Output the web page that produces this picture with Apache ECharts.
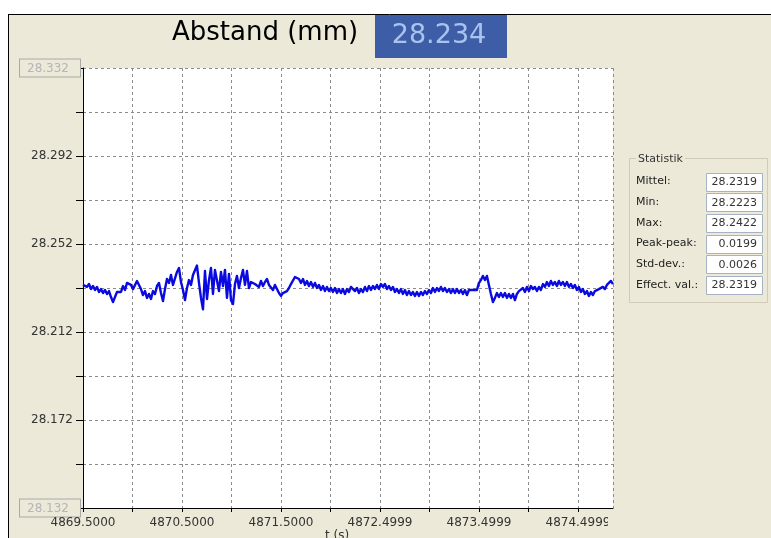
<!DOCTYPE html>
<html><head><meta charset="utf-8">
<script src="https://cdn.jsdelivr.net/npm/echarts@6/dist/echarts.min.js"></script>
<style>html,body{margin:0;padding:0;background:#fff;}#c{width:771px;height:538px;}</style>
</head><body><div id="c"></div>
<script>
// ---- data ----
const T0 = 4869.5;        // first sample time (s)
const DT = 0.0202;        // sample spacing (s)
const T_MAX = 4874.854;   // end of time axis (s)
const Y0 = 28.132;        // bottom of distance axis (mm)
const Y_TOP = 28.332;     // top of distance axis (mm)
const xTickLabels = ['4869.5000','4870.5000','4871.5000','4872.4999','4873.4999','4874.4999'];
const yTickLabels = ['28.132','28.172','28.212','28.252','28.292','28.332'];
const titleText = 'Abstand (mm)';
const currentValue = '28.234';
const xAxisTitle = 't (s)';
const statLabels = ['Mittel:','Min:','Max:','Peak-peak:','Std-dev.:','Effect. val.:'];
const statValues = ['28.2319','28.2223','28.2422','0.0199','0.0026','28.2319'];
const distance = [
28.2334,28.2343,28.2325,28.2338,28.2315,28.2329,28.2311,28.2325,28.2302,28.2315,
28.2297,28.2311,28.2293,28.2306,28.2279,28.2256,28.2279,28.2302,28.2311,28.2302,
28.2329,28.2311,28.2343,28.2352,28.2334,28.2315,28.2306,28.2352,28.2334,28.2315,
28.2288,28.2306,28.2275,28.2293,28.2270,28.2306,28.2293,28.2329,28.2343,28.2297,
28.2261,28.2315,28.2361,28.2343,28.2379,28.2334,28.2329,28.2393,28.2411,28.2347,
28.2311,28.2265,28.2320,28.2356,28.2334,28.2379,28.2388,28.2422,28.2343,28.2275,
28.2223,28.2397,28.2270,28.2356,28.2411,28.2293,28.2402,28.2406,28.2306,28.2393,
28.2329,28.2402,28.2275,28.2384,28.2265,28.2247,28.2338,28.2375,28.2320,28.2365,
28.2402,28.2334,28.2397,28.2320,28.2347,28.2352,28.2338,28.2343,28.2325,28.2352,
28.2329,28.2347,28.2361,28.2334,28.2329,28.2311,28.2334,28.2338,28.2297,28.2284,
28.2297,28.2306,28.2306,28.2320,28.2338,28.2343,28.2370,28.2370,28.2361,28.2343,
28.2361,28.2334,28.2352,28.2329,28.2347,28.2325,28.2343,28.2320,28.2334,28.2311,
28.2329,28.2306,28.2325,28.2306,28.2320,28.2302,28.2320,28.2297,28.2315,28.2297,
28.2315,28.2293,28.2315,28.2302,28.2325,28.2320,28.2306,28.2320,28.2297,28.2315,
28.2302,28.2325,28.2306,28.2329,28.2311,28.2329,28.2315,28.2334,28.2315,28.2338,
28.2325,28.2338,28.2315,28.2329,28.2311,28.2325,28.2302,28.2315,28.2297,28.2315,
28.2293,28.2311,28.2288,28.2306,28.2288,28.2302,28.2284,28.2302,28.2284,28.2302,
28.2288,28.2306,28.2293,28.2311,28.2297,28.2320,28.2302,28.2320,28.2306,28.2325,
28.2306,28.2320,28.2302,28.2315,28.2297,28.2315,28.2297,28.2315,28.2297,28.2311,
28.2293,28.2311,28.2288,28.2311,28.2306,28.2311,28.2320,28.2311,28.2343,28.2356,
28.2375,28.2356,28.2375,28.2334,28.2293,28.2256,28.2275,28.2297,28.2279,28.2297,
28.2279,28.2297,28.2275,28.2293,28.2275,28.2293,28.2265,28.2293,28.2306,28.2297,
28.2320,28.2302,28.2325,28.2306,28.2329,28.2315,28.2325,28.2306,28.2325,28.2311,
28.2338,28.2325,28.2347,28.2329,28.2352,28.2334,28.2347,28.2329,28.2352,28.2334,
28.2347,28.2329,28.2347,28.2325,28.2338,28.2320,28.2334,28.2311,28.2325,28.2302,
28.2315,28.2293,28.2306,28.2284,28.2302,28.2288,28.2306,28.2297,28.2315,28.2306,
28.2325,28.2315,28.2334,28.2329,28.2352,28.2338
];

// ---- chart ----
const FONT = '"DejaVu Sans", Verdana, sans-serif';
const BEIGE = '#ece9d8';
const seriesData = distance.map((v, i) => [T0 + i * DT, v - Y0]);
const Y_SPAN = Y_TOP - Y0;

const graphic = [
  { type: 'rect', shape: { x: 0, y: 0, width: 771, height: 14 }, style: { fill: '#fff' }, silent: true },
  { type: 'rect', shape: { x: 0, y: 0, width: 8, height: 538 }, style: { fill: '#fff' }, silent: true },
  { type: 'line', shape: { x1: 8, y1: 14.5, x2: 771, y2: 14.5 }, style: { stroke: '#000', lineWidth: 1 }, silent: true },
  { type: 'line', shape: { x1: 8.5, y1: 14, x2: 8.5, y2: 538 }, style: { stroke: '#000', lineWidth: 1 }, silent: true },
  { type: 'text', style: { text: titleText, x: 172, y: 33, fill: '#000', fontSize: 26, fontFamily: FONT, align: 'left', verticalAlign: 'middle' }, silent: true },
  { type: 'rect', shape: { x: 375, y: 15, width: 132, height: 43 }, style: { fill: '#3d5ea7' }, silent: true },
  { type: 'text', style: { text: currentValue, x: 439, y: 36, fill: '#a9c2ee', fontSize: 27, fontFamily: FONT, align: 'center', verticalAlign: 'middle' }, silent: true },
  { type: 'text', style: { text: xAxisTitle, x: 337, y: 536, fill: '#333', fontSize: 12, fontFamily: FONT, align: 'center', verticalAlign: 'middle' }, silent: true },
  { type: 'rect', shape: { x: 608, y: 514, width: 18, height: 18 }, style: { fill: BEIGE }, z: 100, silent: true },
  { type: 'rect', shape: { x: 629.5, y: 158.5, width: 138, height: 144 }, style: { fill: 'none', stroke: '#cfcbb8', lineWidth: 1 }, silent: true },
  { type: 'text', style: { text: 'Statistik', x: 636, y: 159, fill: '#333', fontSize: 11, fontFamily: FONT, align: 'left', verticalAlign: 'middle', backgroundColor: BEIGE, padding: [0, 2] }, silent: true }
];
statLabels.forEach((lab, i) => {
  const cy = 181.5 + i * 20.7;
  graphic.push({ type: 'text', style: { text: lab, x: 636, y: cy, fill: '#222', fontSize: 11, fontFamily: FONT, align: 'left', verticalAlign: 'middle' }, silent: true });
  graphic.push({ type: 'rect', shape: { x: 706.5, y: Math.round(cy - 9) + 0.5, width: 56, height: 18 }, style: { fill: '#fff', stroke: '#a5b3c4', lineWidth: 1 }, silent: true });
  graphic.push({ type: 'text', style: { text: statValues[i], x: 757, y: cy + 0.5, fill: '#333', fontSize: 11, fontFamily: FONT, align: 'right', verticalAlign: 'middle' }, silent: true });
});

const chart = echarts.init(document.getElementById('c'), null, { renderer: 'canvas' });
chart.setOption({
  backgroundColor: BEIGE,
  animation: false,
  textStyle: { fontFamily: FONT },
  grid: { left: 83, top: 68, right: 158, bottom: 30, show: true, backgroundColor: '#fff', borderWidth: 0, containLabel: false },
  xAxis: {
    type: 'value', min: T0, max: T_MAX, interval: 0.5,
    axisLine: { show: true, onZero: false, lineStyle: { color: '#000', width: 1 } },
    axisTick: { show: true, length: 4, inside: false, lineStyle: { color: '#000' } },
    axisLabel: {
      show: true, margin: 9, color: '#333', fontSize: 12, fontFamily: FONT, showMaxLabel: false, showMinLabel: true,
      formatter: function (v) {
        const k = v - T0;
        const r = Math.round(k);
        if (Math.abs(k - r) < 1e-6 && r >= 0 && r < xTickLabels.length) return xTickLabels[r];
        return '';
      }
    },
    splitLine: { show: true, lineStyle: { color: '#8c8c8c', type: [3, 3], width: 1 } }
  },
  yAxis: {
    type: 'value', min: 0, max: Y_SPAN, interval: 0.02,
    axisLine: { show: true, onZero: false, lineStyle: { color: '#000', width: 1 } },
    axisTick: { show: true, length: 7, inside: false, lineStyle: { color: '#000' } },
    axisLabel: {
      show: true, margin: 3, showMinLabel: true, showMaxLabel: true,
      formatter: function (v) {
        const k = v / 0.04;
        const r = Math.round(k);
        if (Math.abs(k - r) < 1e-6 && r >= 0 && r < yTickLabels.length) {
          if (r === 0 || r === yTickLabels.length - 1) return '{b|' + yTickLabels[r] + '}';
          return '{n|' + yTickLabels[r] + '}';
        }
        return '';
      },
      rich: {
        n: { color: '#333', fontSize: 12, fontFamily: FONT, padding: [0, 7, 0, 0] },
        b: { color: '#b5b5b5', fontSize: 12, fontFamily: FONT, borderColor: '#a9a9a9', borderWidth: 1, padding: [3, 11, 2, 7], backgroundColor: BEIGE }
      }
    },
    splitLine: { show: true, lineStyle: { color: '#8c8c8c', type: [3, 3], width: 1 } }
  },
  series: [{
    type: 'line', data: seriesData, showSymbol: false, symbol: 'none', sampling: null,
    lineStyle: { color: '#0a0ae0', width: 2.4, join: 'round' }, clip: true, z: 5
  }],
  graphic: graphic
});
</script>
</body></html>
